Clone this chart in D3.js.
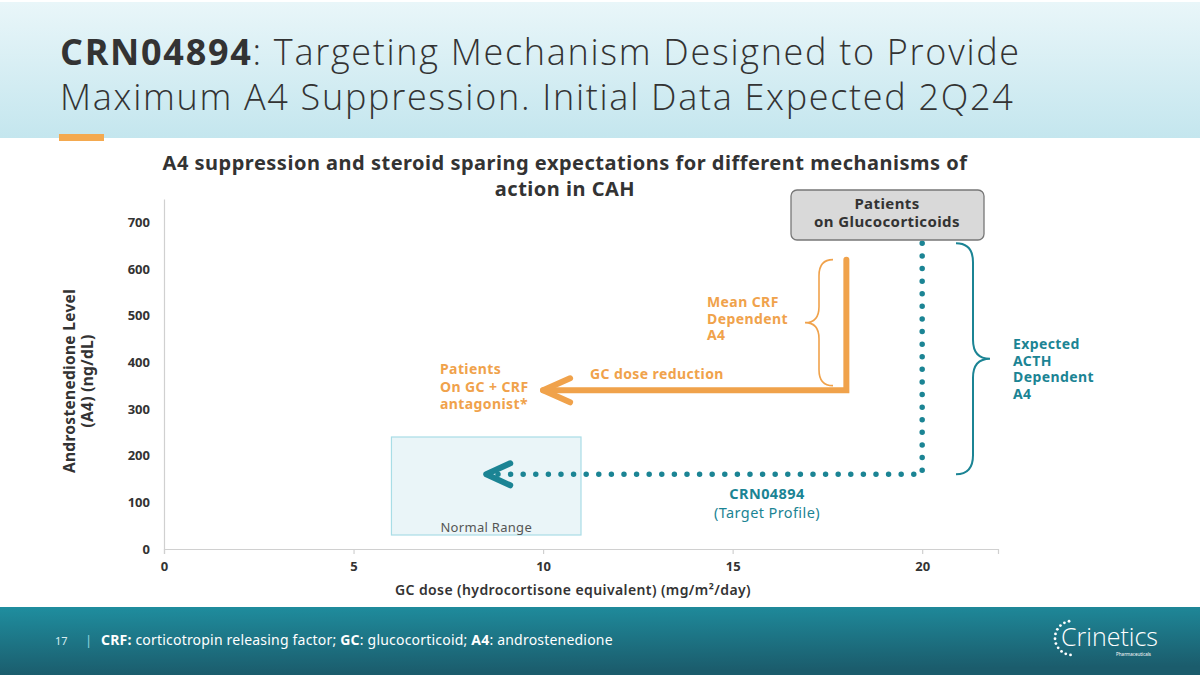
<!DOCTYPE html>
<html>
<head>
<meta charset="utf-8">
<script src="https://cdn.jsdelivr.net/npm/d3@7"></script>
<style>
  body { margin: 0; background: #fff; }
  svg { display: block; font-family: "Noto Sans", "Open Sans", sans-serif; }
</style>
</head>
<body>
<div id="renderDiv"></div>
<script>
// chart values
const xTicks = [0, 5, 10, 15, 20];
const yTicks = [0, 100, 200, 300, 400, 500, 600, 700];
const normalRange = [{ x0: 6, x1: 11, y0: 30, y1: 240 }];
const crfPath = [[18, 620], [18, 340], [10, 340]];          // mean CRF dependent A4 -> GC dose reduction
const acthPath = [[20, 655], [20, 160], [8.5, 160]];        // CRN04894 target profile
const crfBrace = [620, 350];
const acthBrace = [655, 160];

const W = 1200, H = 675;
const ORANGE = "#f0a24b", TEAL = "#1b8494";

const svg = d3.select("#renderDiv").append("svg").attr("width", W).attr("height", H);
const defs = svg.append("defs");

// header band
let hg = defs.append("linearGradient").attr("id", "hdr").attr("x1", 0).attr("y1", 0).attr("x2", 0).attr("y2", 1);
hg.append("stop").attr("offset", "0%").attr("stop-color", "#e9f6f9");
hg.append("stop").attr("offset", "100%").attr("stop-color", "#c4e6ee");
svg.append("rect").attr("x", 0).attr("y", 2).attr("width", W).attr("height", 136).attr("fill", "url(#hdr)");
svg.append("rect").attr("x", 59).attr("y", 134).attr("width", 45).attr("height", 7).attr("fill", "#f4a94f");

let title = svg.append("text").attr("x", 60).attr("fill", "#333").attr("font-size", 36)
    .attr("font-family", "Open Sans, Noto Sans, sans-serif").attr("font-weight", 300).attr("letter-spacing", 1.7);
let t1 = title.append("tspan").attr("x", 60).attr("y", 65);
t1.append("tspan").attr("font-weight", "bold").text("CRN04894");
t1.append("tspan").text(": Targeting Mechanism Designed to Provide");
title.append("tspan").attr("x", 60).attr("y", 110).text("Maximum A4 Suppression. Initial Data Expected 2Q24");

// footer band
let fg = defs.append("linearGradient").attr("id", "ftr").attr("x1", 0).attr("y1", 0).attr("x2", 0.15).attr("y2", 1);
fg.append("stop").attr("offset", "0%").attr("stop-color", "#1f8e9f");
fg.append("stop").attr("offset", "100%").attr("stop-color", "#1b5c6c");
svg.append("rect").attr("x", 0).attr("y", 607).attr("width", W).attr("height", 68).attr("fill", "url(#ftr)");

let foot = svg.append("g").attr("fill", "#fff");
foot.append("text").attr("x", 55).attr("y", 645).attr("font-size", 11).attr("fill", "#d8eef2").text("17");
foot.append("text").attr("x", 85).attr("y", 645).attr("font-size", 13).attr("fill", "#8fd3df").text("|");
let ft = foot.append("text").attr("x", 101).attr("y", 645).attr("font-size", 14).attr("letter-spacing", 0.2);
ft.append("tspan").attr("font-weight", "bold").text("CRF:");
ft.append("tspan").text(" corticotropin releasing factor; ");
ft.append("tspan").attr("font-weight", "bold").text("GC");
ft.append("tspan").text(": glucocorticoid; ");
ft.append("tspan").attr("font-weight", "bold").text("A4");
ft.append("tspan").text(": androstenedione");

// logo
let logo = svg.append("g");
logo.append("text").attr("x", 1061).attr("y", 646).attr("font-size", 25).attr("font-weight", 300)
    .attr("font-family", "Open Sans, Noto Sans, sans-serif").attr("fill", "#fff").text("Crinetics");
logo.append("text").attr("x", 1151).attr("y", 656).attr("font-size", 4.5).attr("text-anchor", "end")
    .attr("fill", "#fff").text("Pharmaceuticals");
for (let a = 100; a <= 265; a += 16.5) {
    let r = a * Math.PI / 180;
    logo.append("circle").attr("cx", 1072 + 17 * Math.cos(r)).attr("cy", 638 - 17 * Math.sin(r))
        .attr("r", 1.4).attr("fill", "#fff");
}

// chart
const x = d3.scaleLinear().domain([0, 22]).range([164, 998]);
const y = d3.scaleLinear().domain([0, 750]).range([549, 199]);

let ct = svg.append("text").attr("text-anchor", "middle").attr("font-size", 20).attr("letter-spacing", 0.5)
    .attr("font-weight", "bold").attr("fill", "#333");
ct.append("tspan").attr("x", 565).attr("y", 170).text("A4 suppression and steroid sparing expectations for different mechanisms of");
ct.append("tspan").attr("x", 565).attr("y", 196).text("action in CAH");

// normal range box
svg.selectAll(".nr").data(normalRange).join("rect").attr("class", "nr")
    .attr("x", d => x(d.x0)).attr("y", d => y(d.y1))
    .attr("width", d => x(d.x1) - x(d.x0)).attr("height", d => y(d.y0) - y(d.y1))
    .attr("fill", "#eaf5f8").attr("stroke", "#a8dde6").attr("stroke-width", 1.2);
svg.append("text").attr("x", (x(6) + x(11)) / 2).attr("y", 532).attr("text-anchor", "middle")
    .attr("font-size", 13).attr("letter-spacing", 0.3).attr("fill", "#555").text("Normal Range");

// axes
let xAxis = svg.append("g").attr("transform", "translate(0," + y(0) + ")")
    .call(d3.axisBottom(x).tickValues(xTicks).tickSize(5).tickPadding(8));
let yAxis = svg.append("g").attr("transform", "translate(" + x(0) + ",0)")
    .call(d3.axisLeft(y).tickValues(yTicks).tickSize(0).tickPadding(14));
[xAxis, yAxis].forEach(g => {
    g.selectAll("path, line").attr("stroke", "#d0d0d0").attr("stroke-width", 1.2);
    g.selectAll("text").attr("font-size", 13).attr("font-weight", "bold").attr("fill", "#333")
        .attr("font-family", "Noto Sans, sans-serif");
});

svg.append("text").attr("x", 573).attr("y", 595).attr("text-anchor", "middle").attr("font-size", 14)
    .attr("letter-spacing", 0.4).attr("font-weight", 600).attr("fill", "#333")
    .text("GC dose (hydrocortisone equivalent) (mg/m²/day)");
let yl = svg.append("text").attr("transform", "translate(0,381) rotate(-90)").attr("text-anchor", "middle")
    .attr("font-size", 15.5).attr("letter-spacing", 0.3).attr("font-weight", "bold").attr("fill", "#333");
yl.append("tspan").attr("x", 0).attr("y", 75).text("Androstenedione Level");
yl.append("tspan").attr("x", 0).attr("y", 93).text("(A4) (ng/dL)");

const line = d3.line().x(d => x(d[0])).y(d => y(d[1]));

// orange: CRF path and arrow
svg.append("path").attr("d", line(crfPath)).attr("fill", "none").attr("stroke", ORANGE)
    .attr("stroke-width", 6).attr("stroke-linejoin", "miter").attr("stroke-linecap", "round");
let ot = crfPath[crfPath.length - 1];
svg.append("path").attr("d", `M${x(ot[0]) + 27},${y(ot[1]) - 12}L${x(ot[0])},${y(ot[1])}L${x(ot[0]) + 27},${y(ot[1]) + 12}`)
    .attr("fill", "none").attr("stroke", ORANGE).attr("stroke-width", 6).attr("stroke-linecap", "round").attr("stroke-linejoin", "round");

// teal dotted path and arrow
svg.append("path").attr("d", line(acthPath)).attr("fill", "none").attr("stroke", TEAL)
    .attr("stroke-width", 5.5).attr("stroke-linecap", "round").attr("stroke-dasharray", "0 12.6");
let tt = acthPath[acthPath.length - 1];
svg.append("path").attr("d", `M${x(tt[0]) + 24},${y(tt[1]) - 11}L${x(tt[0])},${y(tt[1])}L${x(tt[0]) + 24},${y(tt[1]) + 11}`)
    .attr("fill", "none").attr("stroke", TEAL).attr("stroke-width", 6).attr("stroke-linecap", "round").attr("stroke-linejoin", "round");

// curly braces
function brace(xe, y1, y2, w) {
    let xm = xe + w / 2, xt = xe + w, ym = (y1 + y2) / 2, r = Math.abs(w) / 2 + 2;
    return `M${xe},${y1}Q${xm},${y1} ${xm},${y1 + r}L${xm},${ym - r}Q${xm},${ym} ${xt},${ym}` +
        `Q${xm},${ym} ${xm},${ym + r}L${xm},${y2 - r}Q${xm},${y2} ${xe},${y2}`;
}
svg.append("path").attr("d", brace(833, y(crfBrace[0]), y(crfBrace[1]), -28))
    .attr("fill", "none").attr("stroke", ORANGE).attr("stroke-width", 1.6);
svg.append("path").attr("d", brace(956, y(acthBrace[0]), y(acthBrace[1]), 34))
    .attr("fill", "none").attr("stroke", TEAL).attr("stroke-width", 2);

// labels
function lines(xp, yp, arr, color, weight, anchor, lh, fs) {
    let t = svg.append("text").attr("font-size", fs || 14).attr("font-weight", weight).attr("fill", color)
        .attr("letter-spacing", 0.4).attr("text-anchor", anchor || "start");
    arr.forEach((s, i) => t.append("tspan").attr("x", xp).attr("y", yp + i * (lh || 0)).text(s));
}
lines(707, 307, ["Mean CRF", "Dependent", "A4"], ORANGE, "bold", "start", 16.5);
lines(590, 379, ["GC dose reduction"], ORANGE, "bold");
lines(440, 374, ["Patients", "On GC + CRF", "antagonist*"], ORANGE, "bold", "start", 17.5);
lines(1013, 349, ["Expected", "ACTH", "Dependent", "A4"], TEAL, "bold", "start", 16.5);
lines(767, 499, ["CRN04894"], TEAL, "bold", "middle", 0, 14.5);
lines(767, 518, ["(Target Profile)"], TEAL, "normal", "middle", 0, 14.5);

// gray box
svg.append("rect").attr("x", 791).attr("y", 190).attr("width", 193).attr("height", 50).attr("rx", 6)
    .attr("fill", "#d9d9d9").attr("stroke", "#777").attr("stroke-width", 1.3);
lines(887, 209, ["Patients", "on Glucocorticoids"], "#333", "bold", "middle", 17.5, 15);
</script>
</body>
</html>
